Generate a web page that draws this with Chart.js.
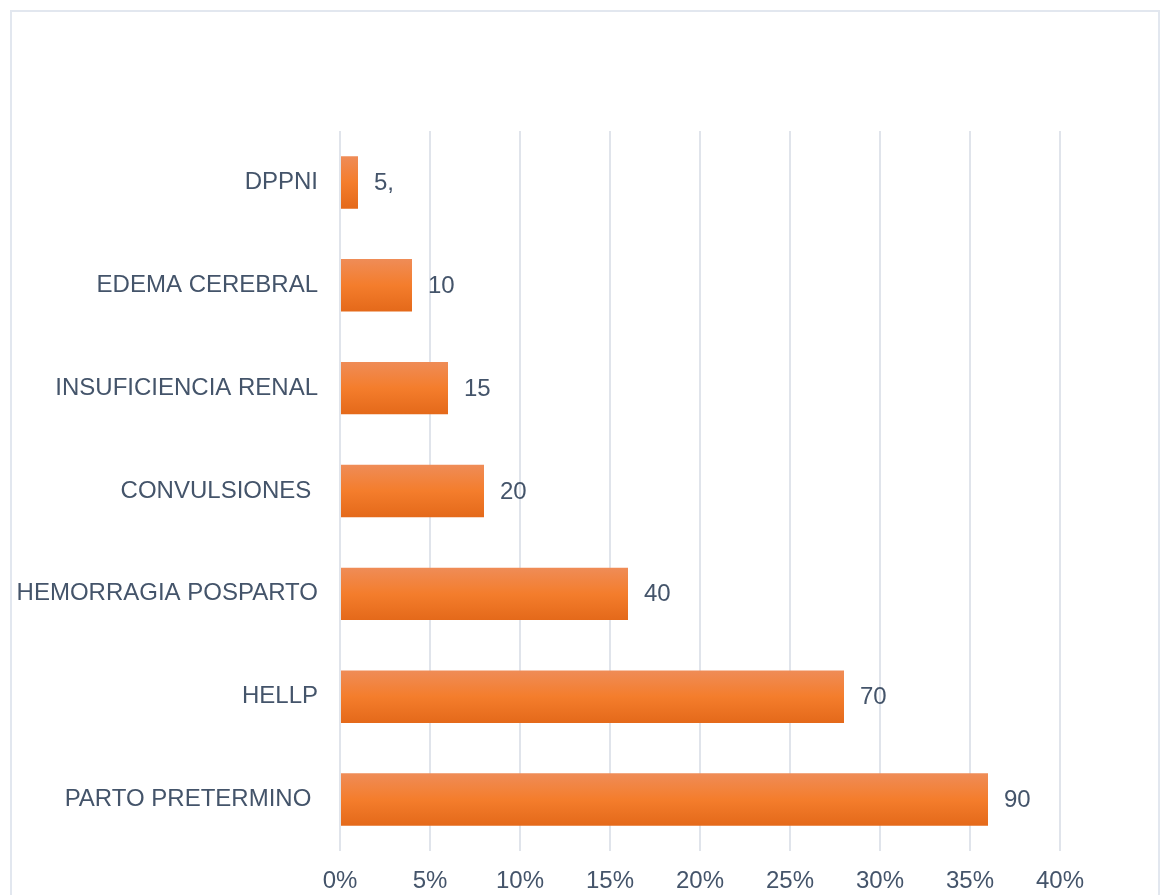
<!DOCTYPE html>
<html>
<head>
<meta charset="utf-8">
<script src="https://cdn.jsdelivr.net/npm/chart.js@4"></script>
<style>
  html, body { margin: 0; padding: 0; background: #fff; overflow: hidden; }
  #wrap { position: absolute; left: 0; top: 0; width: 1160px; height: 895px; }
  #frame { position: absolute; left: 10px; top: 10px; width: 1150px; height: 900px;
           border: 2px solid #e2e7ef; box-sizing: border-box; pointer-events: none; }
</style>
</head>
<body>
<div id="wrap">
  <canvas id="chart" width="1160" height="895"></canvas>
  <div id="frame"></div>
</div>
<script>
// --- DATA ---
const categories = ['DPPNI', 'EDEMA CEREBRAL', 'INSUFICIENCIA RENAL', 'CONVULSIONES ',
  'HEMORRAGIA POSPARTO', 'HELLP', 'PARTO PRETERMINO '];
const percentValues = [1, 4, 6, 8, 16, 28, 36];
const valueLabels = ['5,', '10', '15', '20', '40', '70', '90'];
const tickValues = [0, 5, 10, 15, 20, 25, 30, 35, 40];

const textColor = '#44546a';
const fontSpec = { family: '"Liberation Sans", Arial, sans-serif', size: 24 };
const barPct = 0.51;

// gradient for each bar, built from the y scale position of its category
function barFill(ctx) {
  const chart = ctx.chart;
  const ys = chart.scales.y;
  if (ctx.type !== 'data' || !ys || !ys.height) return '#f47d2c';
  const c = ys.getPixelForValue(ctx.dataIndex);
  const half = ys.height / categories.length * barPct / 2;
  const g = chart.ctx.createLinearGradient(0, c - half, 0, c + half);
  g.addColorStop(0, '#ef8c57');
  g.addColorStop(0.5, '#f47d2c');
  g.addColorStop(1, '#e4691a');
  return g;
}

// value labels to the right of each bar
const valueLabelPlugin = {
  id: 'valueLabels',
  afterDatasetsDraw(chart) {
    const c = chart.ctx;
    const meta = chart.getDatasetMeta(0);
    c.save();
    c.font = `${fontSpec.size}px ${fontSpec.family}`;
    c.fillStyle = textColor;
    c.textAlign = 'left';
    c.textBaseline = 'middle';
    meta.data.forEach((bar, i) => {
      c.fillText(valueLabels[i], bar.x + 16, bar.y + 1);
    });
    c.restore();
  }
};

new Chart(document.getElementById('chart').getContext('2d'), {
  type: 'bar',
  data: {
    labels: categories,
    datasets: [{
      data: percentValues,
      backgroundColor: barFill,
      borderWidth: 0,
      barPercentage: barPct,
      categoryPercentage: 1
    }]
  },
  options: {
    indexAxis: 'y',
    responsive: false,
    animation: false,
    layout: { padding: { top: 131, right: 100, left: 0, bottom: 0 } },
    plugins: { legend: { display: false }, tooltip: { enabled: false } },
    scales: {
      x: {
        min: 0,
        max: 40,
        afterBuildTicks: axis => { axis.ticks = tickValues.map(v => ({ value: v })); },
        afterFit: axis => { axis.height = 44; },
        grid: { color: '#e0e4eb', lineWidth: 2, drawTicks: false },
        border: { display: false },
        ticks: { padding: 16, color: textColor, font: fontSpec, callback: v => v + '%' }
      },
      y: {
        afterFit: axis => { axis.width = 340; },
        grid: { display: false, drawTicks: false },
        border: { display: false },
        ticks: { padding: 22, color: textColor, font: fontSpec }
      }
    }
  },
  plugins: [valueLabelPlugin]
});
</script>
</body>
</html>
